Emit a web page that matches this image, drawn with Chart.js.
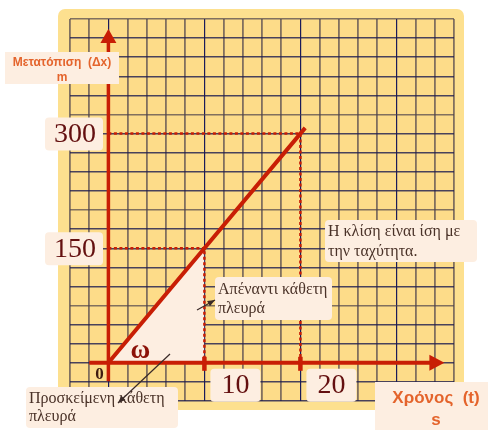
<!DOCTYPE html>
<html>
<head>
<meta charset="utf-8">
<script src="https://cdn.jsdelivr.net/npm/chart.js@4.4.1/dist/chart.umd.min.js"></script>
<style>
  html, body { margin: 0; padding: 0; background: #ffffff; }
  #wrap { position: relative; width: 488px; height: 430px; }
</style>
</head>
<body>
<div id="wrap"><canvas id="motion_chart"></canvas></div>
<script>
// x-t graph: constant velocity, slope = 15 m/s
const timeSec = [0, 10, 20, 20.5];
const displacement = [0, 150, 300, 307.5];
const xTickValues = [10, 20];
const yTickValues = [150, 300];
const xTickLabels = ["10", "20"];
const yTickLabels = ["150", "300"];
const xAxisExtent = [-2, 35];
const yAxisExtent = [-24, 437];

const RED = "#c81e05";
const CREAM = "#fdeee1";
const SERIF = "'Liberation Serif', 'DejaVu Serif', serif";
const NOTE_FONT = "16px " + SERIF;

const points = (xs, ys) => xs.map((x, i) => ({ x: x, y: ys[i] }));

const guide = (i) => [
  { x: 0, y: yTickValues[i] },
  { x: xTickValues[i], y: yTickValues[i] },
  { x: xTickValues[i], y: 0 },
];

function roundBox(ctx, x, y, w, h, r, fill) {
  ctx.beginPath();
  ctx.roundRect(x, y, w, h, r);
  ctx.fillStyle = fill;
  ctx.fill();
}

function arrowLine(ctx, x1, y1, x2, y2, color) {
  const ang = Math.atan2(y2 - y1, x2 - x1);
  ctx.strokeStyle = color;
  ctx.fillStyle = color;
  ctx.lineWidth = 1.2;
  ctx.beginPath();
  ctx.moveTo(x1, y1);
  ctx.lineTo(x2, y2);
  ctx.stroke();
  ctx.beginPath();
  ctx.moveTo(x2, y2);
  ctx.lineTo(x2 - 8 * Math.cos(ang - 0.38), y2 - 8 * Math.sin(ang - 0.38));
  ctx.lineTo(x2 - 8 * Math.cos(ang + 0.38), y2 - 8 * Math.sin(ang + 0.38));
  ctx.closePath();
  ctx.fill();
}

function note(ctx, box, lines, x, y0, gap) {
  roundBox(ctx, box[0], box[1], box[2], box[3], 4, CREAM);
  ctx.font = NOTE_FONT;
  ctx.fillStyle = "#4a3228";
  lines.forEach((t, i) => ctx.fillText(t, x, y0 + i * gap));
}

const paperPlugin = {
  id: "paper",
  beforeDraw(chart) {
    const ctx = chart.ctx;
    const a = chart.chartArea;
    ctx.save();
    roundBox(ctx, a.left - 12, a.top - 10, a.right - a.left + 22, a.bottom - a.top + 19, 7, "#fde08f");
    ctx.fillStyle = "#fddc89";
    ctx.fillRect(a.left, a.top, a.right - a.left, a.bottom - a.top);
    ctx.restore();
  },
};

const axesPlugin = {
  id: "axesArrows",
  afterDatasetsDraw(chart) {
    const ctx = chart.ctx;
    const xs = chart.scales.x;
    const ys = chart.scales.y;
    const x0 = xs.getPixelForValue(0);
    const y0 = ys.getPixelForValue(0);
    const xEnd = xs.getPixelForValue(xAxisExtent[1]);
    const yEnd = ys.getPixelForValue(yAxisExtent[1]);
    ctx.save();
    ctx.strokeStyle = RED;
    ctx.fillStyle = RED;
    ctx.lineCap = "butt";

    // horizontal time axis
    ctx.lineWidth = 4;
    ctx.beginPath();
    ctx.moveTo(xs.getPixelForValue(xAxisExtent[0]), y0);
    ctx.lineTo(xEnd - 12, y0);
    ctx.stroke();
    ctx.beginPath();
    ctx.moveTo(xEnd, y0);
    ctx.lineTo(xEnd - 15, y0 - 8);
    ctx.lineTo(xEnd - 15, y0 + 8);
    ctx.closePath();
    ctx.fill();

    // vertical displacement axis
    ctx.lineWidth = 3.5;
    ctx.beginPath();
    ctx.moveTo(x0, ys.getPixelForValue(yAxisExtent[0]));
    ctx.lineTo(x0, yEnd + 12);
    ctx.stroke();
    ctx.beginPath();
    ctx.moveTo(x0, yEnd);
    ctx.lineTo(x0 - 8, yEnd + 14);
    ctx.lineTo(x0 + 8, yEnd + 14);
    ctx.closePath();
    ctx.fill();

    // tick marks on the time axis
    ctx.lineWidth = 4.5;
    xTickValues.forEach((v) => {
      const px = xs.getPixelForValue(v);
      ctx.beginPath();
      ctx.moveTo(px, y0 - 6);
      ctx.lineTo(px, y0 + 8);
      ctx.stroke();
    });
    ctx.restore();
  },
  afterDraw(chart) {
    const ctx = chart.ctx;
    const xs = chart.scales.x;
    const ys = chart.scales.y;
    const x0 = xs.getPixelForValue(0);
    const y0 = ys.getPixelForValue(0);
    ctx.save();
    ctx.textBaseline = "middle";

    // value labels on the axes
    ctx.textAlign = "center";
    yTickValues.forEach((v, i) => {
      const py = ys.getPixelForValue(v);
      roundBox(ctx, 45, py - 16, 58, 33, 4, CREAM);
      ctx.font = "28px " + SERIF;
      ctx.fillStyle = "#641010";
      ctx.fillText(yTickLabels[i], 75, py + 1);
    });
    xTickValues.forEach((v, i) => {
      const px = xs.getPixelForValue(v);
      roundBox(ctx, px + 6, y0 + 6, 50, 33, 4, CREAM);
      ctx.font = "28px " + SERIF;
      ctx.fillStyle = "#641010";
      ctx.fillText(xTickLabels[i], px + 31, y0 + 23);
    });

    // origin and angle
    ctx.font = "bold 17px " + SERIF;
    ctx.fillStyle = "#3f1c10";
    ctx.fillText("0", x0 - 9, y0 + 12);
    ctx.font = "bold 27px " + SERIF;
    ctx.fillStyle = "#8c1208";
    ctx.fillText("ω", x0 + 32, y0 - 12);

    // axis titles
    roundBox(ctx, 5, 52, 114, 32, 0, CREAM);
    ctx.font = "bold 12px 'Liberation Sans', sans-serif";
    ctx.fillStyle = "#e4642c";
    ctx.fillText("Μετατόπιση  (Δx)", 62, 63);
    ctx.fillText("m", 62, 78);

    roundBox(ctx, 375, 382, 113, 48, 0, CREAM);
    ctx.font = "bold 17px 'Liberation Sans', sans-serif";
    ctx.fillStyle = "#e4642c";
    ctx.fillText("Χρόνος  (t)", 436, 398);
    ctx.fillText("s", 436, 420);

    // explanatory notes
    ctx.textAlign = "left";
    ctx.textBaseline = "alphabetic";
    note(ctx, [325, 220, 152, 42], ["Η κλίση είναι ίση με", "την ταχύτητα."], 328, 236, 20);
    note(ctx, [215, 277, 117, 43], ["Απέναντι κάθετη", "πλευρά"], 218, 294, 19);
    arrowLine(ctx, 197, 310, 215, 300, "#3a2a28");
    note(ctx, [26, 387, 152, 41], ["Προσκείμενη κάθετη", "πλευρά"], 29, 403, 18);
    arrowLine(ctx, 170, 354, 118, 403, "#3a2a28");
    ctx.restore();
  },
};

const lineStyle = { showLine: true, pointRadius: 0, pointHoverRadius: 0 };

new Chart(document.getElementById("motion_chart"), {
  type: "scatter",
  data: {
    datasets: [
      {
        ...lineStyle,
        data: points(timeSec, displacement),
        borderColor: RED,
        borderWidth: 4,
      },
      {
        ...lineStyle,
        data: guide(1),
        borderColor: RED,
        borderWidth: 2.5,
        borderDash: [3, 2.5],
      },
      {
        ...lineStyle,
        data: guide(0),
        borderColor: RED,
        borderWidth: 2.5,
        borderDash: [3, 2.5],
      },
      {
        ...lineStyle,
        data: points(timeSec.slice(0, 2), displacement.slice(0, 2)),
        borderWidth: 0,
        backgroundColor: CREAM,
        fill: "origin",
      },
    ],
  },
  options: {
    responsive: true,
    maintainAspectRatio: false,
    animation: false,
    events: [],
    layout: { padding: { left: 70, top: 19, right: 34, bottom: 29 } },
    plugins: {
      legend: { display: false },
      tooltip: { enabled: false },
    },
    scales: {
      x: {
        type: "linear",
        min: -4,
        max: 36,
        ticks: { display: false, stepSize: 2 },
        border: { display: false },
        grid: {
          drawTicks: false,
          color: (c) => (c.tick && c.tick.value % 10 === 0 ? "#1c1c5a" : "rgba(75,65,75,0.7)"),
          lineWidth: (c) => (c.tick && c.tick.value % 10 === 0 ? 1.2 : 1.8),
        },
      },
      y: {
        type: "linear",
        min: -50,
        max: 450,
        ticks: { display: false, stepSize: 25 },
        border: { display: false },
        grid: {
          drawTicks: false,
          color: (c) => (c.tick && c.tick.value % 125 === 75 ? "rgba(75,65,75,0.7)" : "rgba(28,28,80,0.8)"),
          lineWidth: 1.4,
        },
      },
    },
  },
  plugins: [paperPlugin, axesPlugin],
});
</script>
</body>
</html>
